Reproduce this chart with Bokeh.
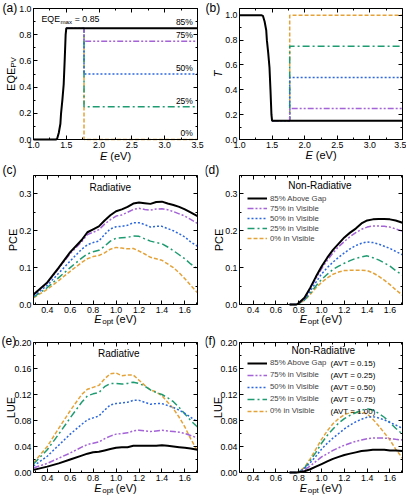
import math
from bokeh.plotting import figure
from bokeh.layouts import gridplot
from bokeh.models import (Label, LinearAxis, SingleIntervalTicker, Range1d,
                          Legend, LegendItem, PrintfTickFormatter)
from bokeh.embed import file_html
from bokeh.resources import INLINE

FONT = "Liberation Sans"

# ---------------- data ----------------
series_names = ["85% Above Gap", "75% in Visible", "50% in Visible",
                "25% in Visible", "0% in Visible"]
avt_text = ["(AVT = 0.15)", "(AVT = 0.25)", "(AVT = 0.50)",
            "(AVT = 0.75)", "(AVT = 1.00)"]
level_text = ["85%", "75%", "50%", "25%", "0%"]

# panel (a)/(b): spectra
E_spec = [1.0, 1.34, 1.36, 1.385, 1.41, 1.42, 1.44, 1.46, 1.475, 1.49, 1.5, 3.5]
eqe_gap = [0, 0, 0.005, 0.05, 0.12, 0.2, 0.3, 0.42, 0.6, 0.8, 0.85, 0.85]
T_gap = [1, 1, 0.995, 0.95, 0.88, 0.8, 0.7, 0.58, 0.4, 0.2, 0.15, 0.15]
E_vis_edge = 1.77
eqe_levels = [0.85, 0.75, 0.50, 0.25, 0.0]
T_levels = [0.15, 0.25, 0.50, 0.75, 1.0]

# panels (c)/(e): radiative
E_opt = [0.28, 0.4, 0.5, 0.6, 0.7, 0.75, 0.8, 0.85, 0.9, 0.95, 1.0, 1.05, 1.1,
         1.15, 1.2, 1.25, 1.3, 1.35, 1.4, 1.45, 1.5, 1.55, 1.6, 1.65, 1.71]
pce_rad_85 = [0.027, 0.06, 0.10, 0.142, 0.175, 0.196, 0.204, 0.212, 0.228, 0.242, 0.253, 0.258, 0.265,
              0.274, 0.277, 0.275, 0.273, 0.278, 0.279, 0.274, 0.27, 0.265, 0.258, 0.25, 0.24]
pce_rad_75 = [0.026, 0.058, 0.098, 0.138, 0.17, 0.19, 0.196, 0.203, 0.218, 0.23, 0.24, 0.243, 0.25,
              0.258, 0.261, 0.258, 0.256, 0.259, 0.26, 0.257, 0.252, 0.246, 0.24, 0.231, 0.22]
pce_rad_50 = [0.023, 0.052, 0.085, 0.118, 0.15, 0.162, 0.168, 0.172, 0.19, 0.205, 0.211, 0.212, 0.215,
              0.222, 0.222, 0.217, 0.21, 0.212, 0.212, 0.206, 0.2, 0.192, 0.183, 0.17, 0.158]
pce_rad_25 = [0.02, 0.046, 0.073, 0.1, 0.126, 0.137, 0.143, 0.147, 0.158, 0.172, 0.18, 0.181, 0.182,
              0.186, 0.185, 0.178, 0.172, 0.168, 0.165, 0.156, 0.146, 0.135, 0.124, 0.11, 0.097]
pce_rad_0 = [0.018, 0.041, 0.065, 0.09, 0.114, 0.124, 0.13, 0.133, 0.14, 0.15, 0.155, 0.153, 0.151,
             0.152, 0.145, 0.137, 0.128, 0.124, 0.12, 0.11, 0.1, 0.086, 0.07, 0.052, 0.032]

lue_rad_85 = [0.004, 0.009, 0.014, 0.02, 0.026, 0.029, 0.031, 0.032, 0.034, 0.036, 0.038, 0.039, 0.039,
              0.041, 0.041, 0.041, 0.041, 0.041, 0.042, 0.041, 0.04, 0.039, 0.038, 0.037, 0.035]
lue_rad_75 = [0.007, 0.014, 0.022, 0.03, 0.039, 0.043, 0.045, 0.047, 0.052, 0.056, 0.059, 0.06, 0.061,
              0.064, 0.065, 0.064, 0.063, 0.064, 0.065, 0.064, 0.063, 0.062, 0.06, 0.057, 0.053]
lue_rad_50 = [0.01, 0.025, 0.042, 0.059, 0.074, 0.081, 0.084, 0.087, 0.096, 0.104, 0.106, 0.107, 0.108,
              0.111, 0.111, 0.108, 0.105, 0.106, 0.106, 0.103, 0.1, 0.096, 0.091, 0.085, 0.078]
lue_rad_25 = [0.013, 0.035, 0.059, 0.084, 0.108, 0.118, 0.121, 0.123, 0.132, 0.137, 0.137, 0.136, 0.137,
              0.139, 0.137, 0.133, 0.127, 0.123, 0.12, 0.115, 0.109, 0.1, 0.09, 0.08, 0.07]
lue_rad_0 = [0.015, 0.04, 0.068, 0.095, 0.12, 0.128, 0.131, 0.134, 0.144, 0.152, 0.153, 0.149, 0.15,
             0.15, 0.142, 0.134, 0.127, 0.124, 0.118, 0.108, 0.098, 0.085, 0.07, 0.052, 0.033]

# panels (d)/(f): non-radiative
E_opt_nr = [0.72, 0.78, 0.8, 0.85, 0.9, 0.95, 1.0, 1.05, 1.1, 1.15, 1.2, 1.25, 1.3, 1.35,
            1.4, 1.45, 1.5, 1.55, 1.6, 1.65, 1.71]
pce_nr_85 = [0, 0.0, 0.004, 0.018, 0.045, 0.075, 0.103, 0.127, 0.148, 0.165, 0.182, 0.195, 0.206, 0.22,
             0.228, 0.231, 0.232, 0.232, 0.231, 0.228, 0.222]
pce_nr_75 = [0, 0.0, 0.003, 0.016, 0.042, 0.07, 0.097, 0.12, 0.14, 0.157, 0.171, 0.184, 0.195, 0.204,
             0.21, 0.213, 0.213, 0.212, 0.21, 0.205, 0.199]
pce_nr_50 = [0, 0.0, 0.003, 0.014, 0.036, 0.06, 0.083, 0.1, 0.115, 0.128, 0.14, 0.151, 0.16, 0.166,
             0.17, 0.168, 0.164, 0.158, 0.152, 0.144, 0.135]
pce_nr_25 = [0, 0.0, 0.002, 0.012, 0.03, 0.05, 0.068, 0.082, 0.095, 0.104, 0.112, 0.119, 0.125, 0.129,
             0.132, 0.127, 0.121, 0.113, 0.104, 0.092, 0.08]
pce_nr_0 = [0, 0.0, 0.002, 0.011, 0.027, 0.045, 0.06, 0.072, 0.082, 0.088, 0.092, 0.093, 0.093, 0.093,
            0.092, 0.086, 0.077, 0.066, 0.054, 0.04, 0.025]

lue_nr_85 = [0, 0, 0.0005, 0.002, 0.005, 0.009, 0.013, 0.017, 0.021, 0.024, 0.027, 0.029, 0.031, 0.033,
             0.034, 0.035, 0.035, 0.035, 0.034, 0.034, 0.033]
lue_nr_75 = [0, 0, 0.001, 0.004, 0.01, 0.017, 0.024, 0.029, 0.034, 0.038, 0.042, 0.045, 0.048, 0.05,
             0.052, 0.053, 0.053, 0.053, 0.052, 0.051, 0.05]
lue_nr_50 = [0, 0, 0.001, 0.006, 0.015, 0.025, 0.036, 0.045, 0.053, 0.06, 0.067, 0.073, 0.078, 0.082,
             0.085, 0.086, 0.084, 0.081, 0.077, 0.073, 0.068]
lue_nr_25 = [0, 0, 0.001, 0.007, 0.018, 0.031, 0.045, 0.057, 0.067, 0.076, 0.083, 0.088, 0.092, 0.096,
             0.098, 0.096, 0.091, 0.085, 0.077, 0.068, 0.059]
lue_nr_0 = [0, 0, 0.001, 0.008, 0.021, 0.036, 0.051, 0.064, 0.075, 0.083, 0.089, 0.092, 0.093, 0.093,
            0.09, 0.082, 0.072, 0.061, 0.05, 0.036, 0.022]

# ---------------- styles ----------------
COLORS = ["black", "#a463d6", "#2b67de", "#1f9b72", "#e4a33a"]
DASHES = ["solid", "6 2 2 2 2 2", "2 2", "7 3 2 3", "4 2"]
WIDTHS = [2.0, 1.5, 1.5, 1.5, 1.5]
TICK_FS = "8.8px"

CW = {'E': .667, 'Q': .778, 'P': .667, 'V': .667, ' ': .278, '(': .333, ')': .333,
      'e': .556, 'o': .556, 'p': .556, 't': .278, 'm': .833, 'a': .556, 'x': .5,
      '=': .584, '.': .278, 'T': .611, 'C': .722, 'L': .556, 'U': .722}


def tw(s, size):
    return sum(CW.get(c, .556) for c in s) * size


class Box:
    """pixel geometry of one panel: figure size and the plot box inside it"""
    def __init__(self, W, L, R, H, T, B):
        self.W, self.L, self.R, self.H, self.T, self.B = W, L, R, H, T, B
        self.FW = W - L - R
        self.FH = H - T - B


BOXES = {}


def style_axis(ax, ticker, fmt, show=True):
    ax.ticker = ticker
    ax.formatter = PrintfTickFormatter(format=fmt)
    ax.major_tick_in = 4
    ax.major_tick_out = 0
    ax.minor_tick_in = 2
    ax.minor_tick_out = 0
    ax.axis_line_color = "black"
    ax.major_tick_line_color = "black"
    ax.minor_tick_line_color = "black"
    ax.major_label_text_font = FONT
    ax.major_label_text_font_size = TICK_FS
    ax.major_label_standoff = 2
    ax.axis_label = None
    if show:
        ax.major_label_text_color = "black"
    else:
        ax.major_label_text_color = None
        ax.major_label_text_alpha = 0


def panel(bx, xr, yr, xint, yint, xfmt, yfmt):
    x0, x1 = xr
    y0, y1 = yr
    sx = (x1 - x0) / bx.FW
    sy = (y1 - y0) / bx.FH
    p = figure(width=bx.W, height=bx.H,
               x_range=Range1d(x0 - bx.L * sx, x1 + bx.R * sx),
               y_range=Range1d(y0 - bx.B * sy, y1 + bx.T * sy),
               output_backend="svg", toolbar_location=None,
               min_border_left=0, min_border_right=0,
               min_border_top=0, min_border_bottom=0)
    p.grid.visible = False
    p.outline_line_color = None
    p.background_fill_color = "white"
    p.border_fill_color = "white"
    xt = SingleIntervalTicker(interval=xint, num_minor_ticks=2)
    yt = SingleIntervalTicker(interval=yint, num_minor_ticks=2)
    eps_x = 1e-9 * (x1 - x0)
    eps_y = 1e-9 * (y1 - y0)
    xb = (x0 - eps_x, x1 + eps_x)
    yb = (y0 - eps_y, y1 + eps_y)
    bot = p.xaxis[0]
    style_axis(bot, xt, xfmt)
    bot.fixed_location = y0
    bot.bounds = xb
    lef = p.yaxis[0]
    style_axis(lef, yt, yfmt)
    lef.fixed_location = x0
    lef.bounds = yb
    top = LinearAxis(fixed_location=y1, bounds=xb)
    style_axis(top, xt, xfmt, False)
    p.add_layout(top, "above")
    right = LinearAxis(fixed_location=x1, bounds=yb)
    style_axis(right, yt, yfmt, False)
    p.add_layout(right, "right")
    BOXES[p.id] = bx
    return p


def txt(p, bxp, byp, s, size, style="normal", align="left",
        baseline="middle", angle=0.0):
    """text in pixels relative to the plot box's lower-left corner"""
    bx = BOXES[p.id]
    p.add_layout(Label(x=bx.L + bxp, y=bx.B + byp, x_units="screen", y_units="screen",
                       text=s, text_font=FONT, text_font_size=f"{size}px",
                       text_font_style=style, text_align=align,
                       text_baseline=baseline, angle=angle, text_color="black"))


def dtxt(p, x, y, s, size, align="center", baseline="middle"):
    p.add_layout(Label(x=x, y=y, text=s, text_font=FONT, text_font_size=f"{size}px",
                       text_align=align, text_baseline=baseline, text_color="black"))


def xlabel(p, sub, y):
    s = 11
    wE = tw("E", s)
    wsub = tw(sub, 8) if sub else 0
    wsp = tw(" ", s)
    total = wE + wsub + wsp + tw("(eV)", s)
    x0 = BOXES[p.id].FW / 2 - total / 2
    txt(p, x0, y, "E", s, style="italic")
    if sub:
        txt(p, x0 + wE + 0.5, y - 3, sub, 8)
    txt(p, x0 + wE + wsub + wsp, y, "(eV)", s)


def ylabel(p, x, main, sub=None, style="normal"):
    s = 11
    total = tw(main, s) + (tw(sub, 8) if sub else 0)
    y0 = BOXES[p.id].FH / 2 - total / 2
    txt(p, x, y0, main, s, style=style, angle=math.pi / 2)
    if sub:
        txt(p, x + 3, y0 + tw(main, s), sub, 8, angle=math.pi / 2)


def draw(p, xs, ys_list):
    rs = [None] * 5
    for i in reversed(range(5)):
        rs[i] = p.line(xs, ys_list[i], line_color=COLORS[i], line_width=WIDTHS[i],
                       line_dash=DASHES[i])
    return rs


def legend(p, rs, gx, first_row_below_top, row_h):
    bx = BOXES[p.id]
    top = bx.FH - first_row_below_top + row_h / 2
    bottom = top - 5 * row_h
    items = [LegendItem(label=series_names[i], renderers=[rs[i]]) for i in range(5)]
    lg = Legend(items=items, location=(bx.L + gx, bx.B + bottom), padding=0, margin=0,
                spacing=0, glyph_width=20, glyph_height=row_h, label_height=row_h,
                label_standoff=3, label_text_font=FONT, label_text_font_size="7.8px",
                border_line_alpha=0, background_fill_alpha=0)
    p.add_layout(lg)


# geometry (figure width/left/right, height/top/bottom); page origin is (0, 0)
A = Box(205, 33, 8, 162, 8, 23)
B_ = Box(201, 34, 4, 162, 8, 23)
C = Box(205, 33, 8, 168, 13, 26)
D = Box(201, 34, 4, 168, 13, 26)
E = Box(205, 33, 8, 169, 12, 27)
F = Box(201, 34, 4, 169, 12, 27)

XR_OPT = (0.28, 1.71)

# ---------------- (a) ----------------
pa = panel(A, (1.0, 3.5), (0.0, 1.0), 0.5, 0.2, "%.1f", "%.1f")
for i in reversed(range(1, 5)):
    pa.line([E_spec[-2], E_vis_edge, E_vis_edge, E_spec[-1]],
            [eqe_levels[0], eqe_levels[0], eqe_levels[i], eqe_levels[i]],
            line_color=COLORS[i], line_width=WIDTHS[i], line_dash=DASHES[i])
pa.line(E_spec, eqe_gap, line_color=COLORS[0], line_width=WIDTHS[0])
for i in range(5):
    dtxt(pa, 3.43, eqe_levels[i] + 0.008, level_text[i], 8.5, align="right", baseline="bottom")
ex, ey = 8, A.FH - 10
txt(pa, ex, ey, "EQE", 8.8)
txt(pa, ex + tw("EQE", 8.8) + 0.3, ey - 2.5, "max", 6.2)
txt(pa, ex + tw("EQE", 8.8) + tw("max", 6.2) + tw(" ", 8.8) + 0.5, ey, "= 0.85", 8.8)
xlabel(pa, None, -16)
ylabel(pa, -23, "EQE", "PV")
txt(pa, -31, A.FH + 1, "(a)", 12)

# ---------------- (b) ----------------
pb = panel(B_, (1.0, 3.5), (0.0, 1.055), 0.5, 0.2, "%.1f", "%.1f")
for i in reversed(range(1, 5)):
    pb.line([E_spec[-2], E_vis_edge, E_vis_edge, E_spec[-1]],
            [T_levels[0], T_levels[0], T_levels[i], T_levels[i]],
            line_color=COLORS[i], line_width=WIDTHS[i], line_dash=DASHES[i])
pb.line(E_spec, T_gap, line_color=COLORS[0], line_width=WIDTHS[0])
xlabel(pb, None, -15)
ylabel(pb, -22, "T", None, style="italic")
txt(pb, -34, B_.FH + 1, "(b)", 12)

# ---------------- (c) ----------------
pc = panel(C, XR_OPT, (0.0, 0.35), 0.2, 0.1, "%.1f", "%.1f")
draw(pc, E_opt, [pce_rad_85, pce_rad_75, pce_rad_50, pce_rad_25, pce_rad_0])
dtxt(pc, 0.95, 0.318, "Radiative", 10)
xlabel(pc, "opt", -14)
ylabel(pc, -21, "PCE")
txt(pc, -31, C.FH + 6, "(c)", 12)

# ---------------- (d) ----------------
pd_ = panel(D, XR_OPT, (0.0, 0.35), 0.2, 0.1, "%.1f", "%.1f")
rd = draw(pd_, E_opt_nr, [pce_nr_85, pce_nr_75, pce_nr_50, pce_nr_25, pce_nr_0])
dtxt(pd_, 0.986, 0.323, "Non-Radiative", 10)
legend(pd_, rd, 8, 23, 10)
xlabel(pd_, "opt", -14)
ylabel(pd_, -21, "PCE")
txt(pd_, -35, D.FH + 6, "(d)", 12)

# ---------------- (e) ----------------
pe = panel(E, XR_OPT, (0.0, 0.2), 0.2, 0.04, "%.1f", "%.2f")
draw(pe, E_opt, [lue_rad_85, lue_rad_75, lue_rad_50, lue_rad_25, lue_rad_0])
dtxt(pe, 1.024, 0.183, "Radiative", 10)
xlabel(pe, "opt", -15)
ylabel(pe, -23, "LUE")
txt(pe, -32, E.FH + 2, "(e)", 12)

# ---------------- (f) ----------------
pf = panel(F, XR_OPT, (0.0, 0.2), 0.2, 0.04, "%.1f", "%.2f")
rf = draw(pf, E_opt_nr, [lue_nr_85, lue_nr_75, lue_nr_50, lue_nr_25, lue_nr_0])
dtxt(pf, 1.015, 0.188, "Non-Radiative", 10)
row_f = 12
first_f = 20.5
legend(pf, rf, 8, first_f, row_f)
for i in range(5):
    txt(pf, 91, F.FH - first_f - row_f * i, avt_text[i], 8)
xlabel(pf, "opt", -15)
ylabel(pf, -22, "LUE")
txt(pf, -35, F.FH + 2, "(f)", 12)

grid = gridplot([[pa, pb], [pc, pd_], [pe, pf]], toolbar_location=None)

open("out.html", "w").write(file_html(grid, INLINE))
